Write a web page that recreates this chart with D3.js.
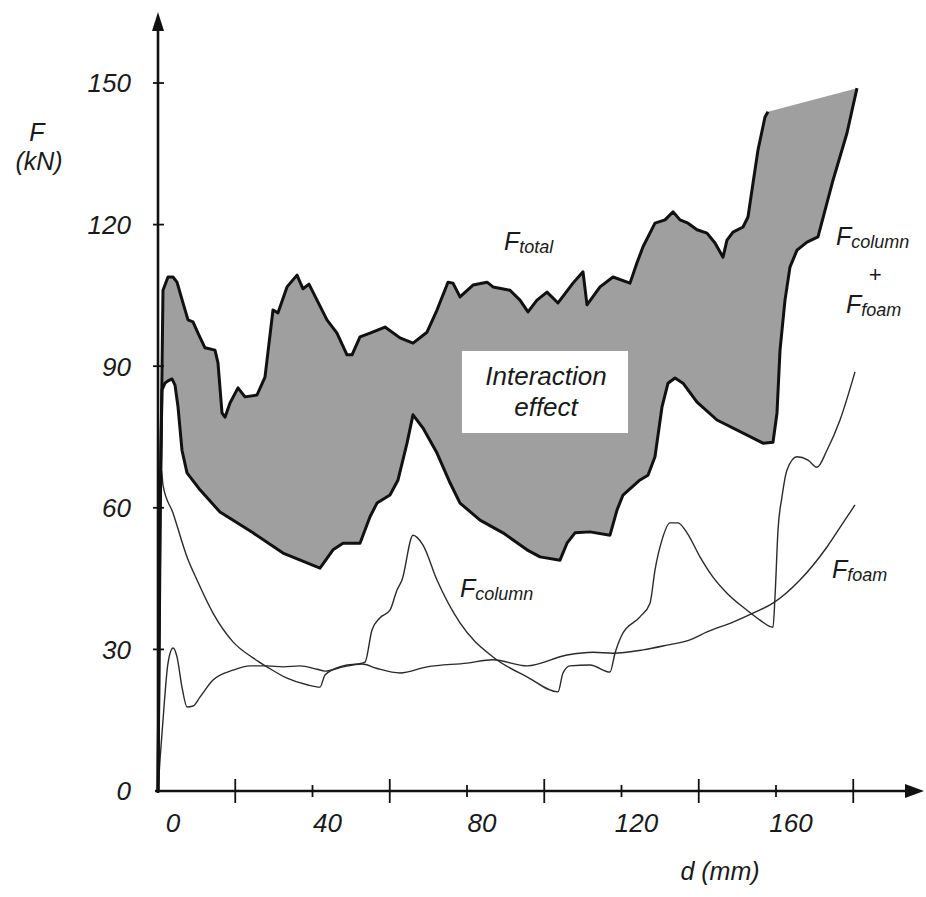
<!DOCTYPE html>
<html>
<head>
<meta charset="utf-8">
<script src="https://cdn.jsdelivr.net/npm/d3@7"></script>
<style>
  html, body { margin: 0; padding: 0; background: #ffffff; }
  svg { display: block; }
  text { font-family: "Liberation Sans", Arial, Helvetica, sans-serif; font-style: italic; fill: #1a1a1a; }
</style>
</head>
<body>
<svg id="chart" width="926" height="897"></svg>
<script>
// ---- data (d in mm, F in kN) ----
const fTotal = [
  [0,0],[0.6,60],[1.29,106.1],[2.59,108.9],[3.88,108.9],[4.92,107.8],[6.47,103.4],[7.77,99.8],
  [9.06,99.4],[10.36,97.0],[12.17,93.9],[14.76,93.4],[15.53,90.7],[16.57,80.1],[17.35,79.2],
  [18.64,82.2],[20.71,85.4],[22.52,83.5],[25.63,83.9],[27.70,87.7],[29.77,101.9],[31.07,101.3],
  [33.40,106.8],[35.99,109.3],[37.54,106.4],[39.09,107.4],[41.17,104.0],[43.75,99.8],[46.34,97.0],
  [48.93,92.4],[50.23,92.4],[52.30,96.2],[54.89,97.0],[58.77,98.3],[62.65,96.0],[66.02,94.9],
  [69.64,97.2],[72.23,101.9],[75.08,107.8],[76.38,107.6],[78.19,104.7],[81.55,107.2],[85.18,107.8],
  [86.73,106.8],[91.13,106.1],[93.72,104.0],[95.79,101.5],[98.12,104.0],[100.71,105.7],[103.56,103.4],
  [107.44,107.6],[110.03,110.0],[111.07,103.0],[114.44,106.8],[117.80,108.9],[122.20,107.6],
  [124.01,111.9],[125.57,115.3],[128.67,120.3],[131.26,121.0],[133.33,122.7],[135.15,121.0],
  [137.22,120.3],[139.55,118.9],[142.14,118.2],[144.21,116.1],[146.28,113.1],[147.31,116.7],
  [148.87,118.4],[151.46,119.5],[152.75,121.6],[154.05,128.8],[155.34,135.8],[157.15,142.8],[157.93,143.9]
];
const fSum = [
  [0,0],[0.5,60],[1.04,85.0],[1.81,86.4],[2.59,86.9],[3.62,87.3],[4.40,86.0],[5.18,81.4],[6.21,72.2],
  [7.51,67.4],[10.87,63.8],[16.05,59.1],[24.60,54.7],[32.36,50.4],[41.94,47.2],[45.31,51.1],
  [47.90,52.5],[52.30,52.5],[54.89,58.1],[56.70,61.0],[60.06,62.7],[62.14,65.9],[64.47,73.7],
  [66.02,79.7],[68.61,76.9],[72.23,71.6],[75.60,65.3],[78.19,61.0],[83.37,57.4],[89.32,54.7],
  [95.53,51.1],[98.90,49.6],[104.08,48.9],[105.89,52.5],[107.96,54.7],[111.84,54.9],[117.02,54.2],
  [118.83,59.5],[120.39,62.7],[124.79,65.9],[126.86,66.9],[128.67,70.8],[130.49,81.4],[132.04,86.4],
  [133.85,87.5],[135.92,86.4],[139.55,82.4],[144.72,78.6],[156.63,73.7],[159.22,73.9],[160.26,80.1],
  [161.04,93.4],[162.33,104.0],[163.62,111.0],[165.44,114.6],[168.03,116.3],[170.87,117.4],
  [174.76,129.4],[178.38,139.4],[180.97,148.9]
];
const fColumn = [
  [0,0],[0.4,40],[0.9,68],[1.29,64.8],[3.88,58.9],[7.51,49.6],[10.10,44.7],[14.24,37.7],[19.42,31.6],
  [24.60,28.2],[28.22,26.3],[33.40,23.9],[38.58,22.5],[41.94,22.0],[43.24,24.6],[47.90,26.5],
  [52.82,27.1],[53.59,27.3],[55.40,34.1],[57.48,36.7],[60.06,38.3],[61.88,42.6],[63.17,44.7],
  [66.02,54.2],[68.61,52.1],[72.23,44.7],[78.19,35.6],[86.73,28.4],[95.53,24.2],[103.56,21.0],
  [104.85,25.0],[106.67,26.5],[111.84,26.7],[117.02,25.2],[118.32,29.2],[120.13,33.1],[124.79,36.9],
  [127.38,39.8],[128.67,46.8],[130.49,53.2],[132.56,56.8],[134.63,56.8],[136.96,54.7],[140.32,49.6],
  [143.69,45.3],[147.31,41.9],[152.49,38.3],[155.86,36.2],[159.22,34.7],[159.74,41.1],[160.52,55.3],
  [161.55,62.3],[162.85,68.0],[165.44,70.8],[168.28,70.1],[170.61,68.6],[173.20,72.2],[176.57,78.6],
  [180.45,88.8]
];
const fFoam = [
  [0,0],[0.52,6.6],[1.29,15.0],[2.59,27.1],[3.88,30.3],[4.92,28.4],[6.21,22.0],[7.51,17.8],[9.06,18.0],
  [10.87,19.9],[14.24,23.5],[19.42,25.6],[23.82,26.5],[28.22,26.5],[32.36,26.3],[36.76,26.5],
  [41.17,25.8],[43.24,25.4],[47.90,26.3],[52.82,26.9],[56.5,26.0],[62.65,25.0],[69.64,26.3],
  [80.0,27.1],[86.73,27.8],[95.53,26.5],[105.89,28.8],[112.62,29.4],[117.80,29.2],[125.57,29.9],
  [131.78,30.9],[137.73,32.0],[142.14,33.7],[148.87,35.8],[154.05,37.7],[159.22,39.8],[166.21,44.7],
  [173.20,51.7],[177.35,56.8],[180.45,60.6]
];
const yTicks = [0, 30, 60, 90, 120, 150];
const xTicksLabelled = [0, 40, 80, 120, 160];
const xTicksLong = [20, 60, 100, 140, 180];

// ---- scales ----
const x = d3.scaleLinear().domain([0, 160]).range([158, 776]);
const y = d3.scaleLinear().domain([0, 150]).range([791, 83]);

const svg = d3.select("#chart");
const line = d3.line().x(d => x(d[0])).y(d => y(d[1]));
const smooth = d3.line().x(d => x(d[0])).y(d => y(d[1])).curve(d3.curveMonotoneX);

// ---- interaction area (F_total over F_column+F_foam) ----
const poly = fTotal.concat(fSum.slice().reverse());
svg.append("path")
  .attr("d", line(poly) + "Z")
  .attr("fill", "#9f9f9f")
  .attr("stroke", "none");

// thin component curves
svg.append("path").attr("d", smooth(fColumn))
  .attr("fill", "none").attr("stroke", "#2a2a2a").attr("stroke-width", 1.4).attr("stroke-linejoin", "round");
svg.append("path").attr("d", smooth(fFoam))
  .attr("fill", "none").attr("stroke", "#2a2a2a").attr("stroke-width", 1.4).attr("stroke-linejoin", "round");

// thick outlines
svg.append("path").attr("d", line(fTotal))
  .attr("fill", "none").attr("stroke", "#111").attr("stroke-width", 3).attr("stroke-linejoin", "round");
svg.append("path").attr("d", line(fSum))
  .attr("fill", "none").attr("stroke", "#111").attr("stroke-width", 3).attr("stroke-linejoin", "round");

// ---- axes ----
const axisG = svg.append("g").attr("stroke", "#111");
const x0 = x(0), y0 = y(0);
axisG.append("line").attr("x1", x0).attr("x2", x0).attr("y1", y0 + 2).attr("y2", 26).attr("stroke-width", 2.6);
svg.append("path").attr("d", `M${x0},12 L${x0 - 6},31 L${x0 + 6},31 Z`).attr("fill", "#111");
axisG.append("line").attr("x1", x0 - 3).attr("x2", 910).attr("y1", y0).attr("y2", y0).attr("stroke-width", 2.4);
svg.append("path").attr("d", `M924,${y0} L905,${y0 - 7} L905,${y0 + 7} Z`).attr("fill", "#111");

yTicks.filter(v => v > 0).forEach(v => {
  axisG.append("line").attr("x1", x0 - 5).attr("x2", x0 + 6).attr("y1", y(v)).attr("y2", y(v)).attr("stroke-width", 1.8);
});
yTicks.forEach(v => {
  svg.append("text").attr("x", 131).attr("y", y(v)).attr("dy", "0.36em")
    .attr("text-anchor", "end").attr("font-size", 26).text(v);
});
xTicksLabelled.filter(v => v > 0).forEach(v => {
  axisG.append("line").attr("x1", x(v)).attr("x2", x(v)).attr("y1", y0 - 6).attr("y2", y0 + 6).attr("stroke-width", 1.8);
});
xTicksLong.forEach(v => {
  axisG.append("line").attr("x1", x(v)).attr("x2", x(v)).attr("y1", y0 - 12).attr("y2", y0 + 12).attr("stroke-width", 1.8);
});
xTicksLabelled.forEach(v => {
  svg.append("text").attr("x", x(v) + 15).attr("y", 832)
    .attr("text-anchor", "middle").attr("font-size", 26).text(v);
});

// axis titles
svg.append("text").attr("x", 37).attr("y", 141).attr("text-anchor", "middle").attr("font-size", 25).text("F");
svg.append("text").attr("x", 39).attr("y", 170).attr("text-anchor", "middle").attr("font-size", 25).text("(kN)");
svg.append("text").attr("x", 720).attr("y", 880).attr("text-anchor", "middle").attr("font-size", 25).text("d (mm)");

// ---- labels with subscripts ----
function subLabel(px, py, main, sub, size) {
  const t = svg.append("text").attr("x", px).attr("y", py).attr("font-size", size || 25);
  t.append("tspan").text(main);
  t.append("tspan").attr("font-size", 18).attr("dy", 3).text(sub);
  return t;
}
subLabel(504, 250, "F", "total");
subLabel(460, 597, "F", "column");
subLabel(836, 245, "F", "column");
svg.append("text").attr("x", 875).attr("y", 282).attr("text-anchor", "middle").attr("font-size", 22).text("+");
subLabel(846, 313, "F", "foam");
subLabel(832, 578, "F", "foam");

// interaction box
svg.append("rect").attr("x", 462).attr("y", 351).attr("width", 166).attr("height", 82).attr("fill", "#ffffff");
svg.append("text").attr("x", 546).attr("y", 385).attr("text-anchor", "middle").attr("font-size", 26).text("Interaction");
svg.append("text").attr("x", 546).attr("y", 416).attr("text-anchor", "middle").attr("font-size", 26).text("effect");
</script>
</body>
</html>
